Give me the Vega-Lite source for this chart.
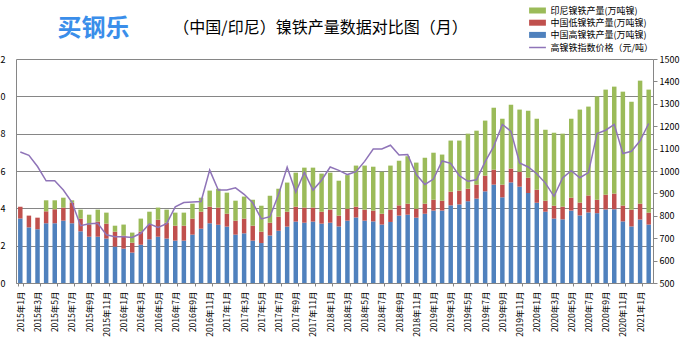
{
  "$schema": "https://vega.github.io/schema/vega-lite/v6.json",
  "width": 637,
  "height": 224,
  "autosize": {"type": "none"},
  "padding": {"left": 16, "top": 59, "right": 28, "bottom": 58},
  "background": "white",
  "title": {
    "text": "（中国/印尼）镍铁产量数据对比图（月）",
    "fontSize": 16,
    "fontWeight": "normal",
    "font": "Noto Sans CJK SC",
    "color": "#000000",
    "anchor": "middle",
    "dx": -14,
    "offset": -30
  },
  "config": {
    "font": "Noto Sans CJK SC",
    "view": {"stroke": null},
    "legend": {"padding": 0, "labelFontSize": 9, "labelColor": "#000000", "rowPadding": 2.2}
  },
  "datasets": {
    "series": [
      {"k": "id", "label": "印尼镍铁产量(万吨镍)", "r": 3},
      {"k": "lo", "label": "中国低镍铁产量(万吨镍)", "r": 2},
      {"k": "hi", "label": "中国高镍铁产量(万吨镍)", "r": 1}
    ],
    "main": [
      {"m": "2015年1月", "hi": 3.45, "lo": 0.64, "id": 0, "p": 1085},
      {"m": "2015年2月", "hi": 2.98, "lo": 0.63, "id": 0, "p": 1070},
      {"m": "2015年3月", "hi": 2.88, "lo": 0.62, "id": 0, "p": 1020},
      {"m": "2015年4月", "hi": 3.2, "lo": 0.64, "id": 0.59, "p": 956},
      {"m": "2015年5月", "hi": 3.2, "lo": 0.75, "id": 0.48, "p": 956},
      {"m": "2015年6月", "hi": 3.34, "lo": 0.7, "id": 0.53, "p": 915},
      {"m": "2015年7月", "hi": 3.2, "lo": 1.1, "id": 0.13, "p": 860},
      {"m": "2015年8月", "hi": 2.77, "lo": 0.68, "id": 0.48, "p": 756},
      {"m": "2015年9月", "hi": 2.48, "lo": 0.63, "id": 0.55, "p": 764},
      {"m": "2015年10月", "hi": 2.48, "lo": 0.81, "id": 0.64, "p": 767},
      {"m": "2015年11月", "hi": 2.38, "lo": 0.8, "id": 0.59, "p": 715},
      {"m": "2015年12月", "hi": 1.95, "lo": 0.8, "id": 0.32, "p": 707},
      {"m": "2016年1月", "hi": 1.84, "lo": 0.7, "id": 0.59, "p": 707},
      {"m": "2016年2月", "hi": 1.63, "lo": 0.53, "id": 0.54, "p": 703},
      {"m": "2016年3月", "hi": 2.05, "lo": 0.7, "id": 0.7, "p": 722},
      {"m": "2016年4月", "hi": 2.34, "lo": 0.8, "id": 0.68, "p": 764},
      {"m": "2016年5月", "hi": 2.48, "lo": 0.91, "id": 0.65, "p": 748},
      {"m": "2016年6月", "hi": 2.38, "lo": 0.85, "id": 0.7, "p": 765},
      {"m": "2016年7月", "hi": 2.27, "lo": 0.8, "id": 0.7, "p": 840},
      {"m": "2016年8月", "hi": 2.27, "lo": 0.8, "id": 0.7, "p": 859},
      {"m": "2016年9月", "hi": 2.59, "lo": 0.86, "id": 0.8, "p": 862},
      {"m": "2016年10月", "hi": 2.91, "lo": 0.91, "id": 0.75, "p": 864},
      {"m": "2016年11月", "hi": 3.2, "lo": 0.89, "id": 0.86, "p": 1004},
      {"m": "2016年12月", "hi": 3.12, "lo": 0.92, "id": 1.01, "p": 915},
      {"m": "2017年1月", "hi": 3.02, "lo": 0.69, "id": 1.13, "p": 915},
      {"m": "2017年2月", "hi": 2.59, "lo": 0.75, "id": 1.07, "p": 925},
      {"m": "2017年3月", "hi": 2.66, "lo": 0.79, "id": 1.18, "p": 896},
      {"m": "2017年4月", "hi": 2.27, "lo": 0.8, "id": 1.39, "p": 858},
      {"m": "2017年5月", "hi": 2.14, "lo": 0.61, "id": 1.39, "p": 786},
      {"m": "2017年6月", "hi": 2.55, "lo": 0.68, "id": 1.45, "p": 796},
      {"m": "2017年7月", "hi": 2.8, "lo": 0.75, "id": 1.5, "p": 895},
      {"m": "2017年8月", "hi": 3.02, "lo": 0.8, "id": 1.56, "p": 1017},
      {"m": "2017年9月", "hi": 3.29, "lo": 0.8, "id": 1.82, "p": 905},
      {"m": "2017年10月", "hi": 3.23, "lo": 0.81, "id": 2.14, "p": 994},
      {"m": "2017年11月", "hi": 3.29, "lo": 0.75, "id": 2.14, "p": 915},
      {"m": "2017年12月", "hi": 3.18, "lo": 0.64, "id": 2.04, "p": 959},
      {"m": "2018年1月", "hi": 3.23, "lo": 0.7, "id": 1.98, "p": 1018},
      {"m": "2018年2月", "hi": 3.03, "lo": 0.58, "id": 1.87, "p": 1003},
      {"m": "2018年3月", "hi": 3.34, "lo": 0.64, "id": 1.8, "p": 984},
      {"m": "2018年4月", "hi": 3.51, "lo": 0.58, "id": 2.2, "p": 997},
      {"m": "2018年5月", "hi": 3.34, "lo": 0.59, "id": 2.36, "p": 1043},
      {"m": "2018年6月", "hi": 3.3, "lo": 0.58, "id": 2.35, "p": 1098},
      {"m": "2018年7月", "hi": 3.13, "lo": 0.58, "id": 2.25, "p": 1098},
      {"m": "2018年8月", "hi": 3.27, "lo": 0.66, "id": 2.36, "p": 1115},
      {"m": "2018年9月", "hi": 3.61, "lo": 0.55, "id": 2.39, "p": 1071},
      {"m": "2018年10月", "hi": 3.66, "lo": 0.59, "id": 2.54, "p": 1074},
      {"m": "2018年11月", "hi": 3.5, "lo": 0.48, "id": 2.47, "p": 984},
      {"m": "2018年12月", "hi": 3.71, "lo": 0.54, "id": 2.46, "p": 940},
      {"m": "2019年1月", "hi": 3.88, "lo": 0.58, "id": 2.52, "p": 964},
      {"m": "2019年2月", "hi": 3.88, "lo": 0.53, "id": 2.47, "p": 1045},
      {"m": "2019年3月", "hi": 4.16, "lo": 0.73, "id": 2.74, "p": 1034},
      {"m": "2019年4月", "hi": 4.21, "lo": 0.74, "id": 2.68, "p": 979},
      {"m": "2019年5月", "hi": 4.38, "lo": 0.67, "id": 2.95, "p": 954},
      {"m": "2019年6月", "hi": 4.52, "lo": 0.75, "id": 2.89, "p": 961},
      {"m": "2019年7月", "hi": 4.91, "lo": 0.84, "id": 2.95, "p": 1042},
      {"m": "2019年8月", "hi": 5.27, "lo": 0.8, "id": 3.32, "p": 1110},
      {"m": "2019年9月", "hi": 4.59, "lo": 0.68, "id": 3.53, "p": 1208},
      {"m": "2019年10月", "hi": 5.39, "lo": 0.74, "id": 3.42, "p": 1177},
      {"m": "2019年11月", "hi": 5.16, "lo": 0.8, "id": 3.33, "p": 1036},
      {"m": "2019年12月", "hi": 4.82, "lo": 0.82, "id": 3.59, "p": 1018},
      {"m": "2020年1月", "hi": 4.3, "lo": 0.7, "id": 3.8, "p": 988},
      {"m": "2020年2月", "hi": 3.82, "lo": 0.59, "id": 3.8, "p": 946},
      {"m": "2020年3月", "hi": 3.45, "lo": 0.69, "id": 3.91, "p": 887},
      {"m": "2020年4月", "hi": 3.41, "lo": 0.68, "id": 3.91, "p": 969},
      {"m": "2020年5月", "hi": 3.88, "lo": 0.69, "id": 4.23, "p": 1001},
      {"m": "2020年6月", "hi": 3.62, "lo": 0.69, "id": 4.98, "p": 970},
      {"m": "2020年7月", "hi": 3.78, "lo": 0.91, "id": 4.76, "p": 993},
      {"m": "2020年8月", "hi": 3.74, "lo": 0.72, "id": 5.54, "p": 1167},
      {"m": "2020年9月", "hi": 3.94, "lo": 0.79, "id": 5.63, "p": 1182},
      {"m": "2020年10月", "hi": 3.95, "lo": 0.84, "id": 5.73, "p": 1208},
      {"m": "2020年11月", "hi": 3.3, "lo": 0.85, "id": 6.1, "p": 1078},
      {"m": "2020年12月", "hi": 3.03, "lo": 0.9, "id": 5.78, "p": 1088},
      {"m": "2021年1月", "hi": 3.4, "lo": 0.85, "id": 6.59, "p": 1135},
      {"m": "2021年2月", "hi": 3.13, "lo": 0.64, "id": 6.59, "p": 1212}
    ]
  },
  "data": {"name": "main"},
  "encoding": {
    "x": {
      "field": "m",
      "type": "ordinal",
      "sort": null,
      "scale": {"paddingInner": 0.48, "paddingOuter": 0.24},
      "axis": {
        "title": null,
        "labelAngle": -90,
        "labelFontSize": 8.5,
        "labelColor": "#000000",
        "labelPadding": 5,
        "tickBand": "extent",
        "tickSize": 3,
        "tickColor": "#868686",
        "domainColor": "#868686",
        "values": ["2015年1月","2015年3月","2015年5月","2015年7月","2015年9月","2015年11月","2016年1月","2016年3月","2016年5月","2016年7月","2016年9月","2016年11月","2017年1月","2017年3月","2017年5月","2017年7月","2017年9月","2017年11月","2018年1月","2018年3月","2018年5月","2018年7月","2018年9月","2018年11月","2019年1月","2019年3月","2019年5月","2019年7月","2019年9月","2019年11月","2020年1月","2020年3月","2020年5月","2020年7月","2020年9月","2020年11月","2021年1月"]
      }
    }
  },
  "layer": [
    {
      "transform": [
        {"fold": ["hi", "lo", "id"], "as": ["k", "v"]},
        {"lookup": "k", "from": {"data": {"name": "series"}, "key": "k", "fields": ["label", "r"]}}
      ],
      "mark": {"type": "bar"},
      "encoding": {
        "y": {
          "field": "v",
          "type": "quantitative",
          "stack": "zero",
          "scale": {"domain": [0, 12], "nice": false},
          "axis": {
            "title": "买钢乐",
            "titleAngle": 0,
            "titleX": 77,
            "titleY": -31,
            "titleAlign": "center",
            "titleBaseline": "middle",
            "titleFontSize": 24,
            "titleFontWeight": "bold",
            "titleColor": "#3a8eea",
            "values": [0, 2, 4, 6, 8, 10, 12],
            "grid": true,
            "gridColor": "#868686",
            "gridWidth": 1,
            "gridOpacity": 1,
            "tickSize": 0,
            "labelPadding": 11,
            "labelFontSize": 9,
            "labelColor": "#000000",
            "domainColor": "#868686"
          }
        },
        "color": {
          "field": "label",
          "type": "nominal",
          "scale": {
            "domain": ["印尼镍铁产量(万吨镍)", "中国低镍铁产量(万吨镍)", "中国高镍铁产量(万吨镍)"],
            "range": ["#9BBB59", "#C0504D", "#4F81BD"]
          },
          "legend": {
            "title": null,
            "orient": "none",
            "legendX": 517,
            "legendY": -53,
            "symbolType": "M-2.8,-1H2.8V1H-2.8Z",
            "symbolSize": 36,
            "symbolStrokeWidth": 0,
            "labelOffset": 8.5
          }
        },
        "order": {"field": "r", "type": "quantitative", "sort": "ascending"}
      }
    },
    {
      "mark": {"type": "line", "strokeWidth": 1.5},
      "encoding": {
        "y": {
          "field": "p",
          "type": "quantitative",
          "scale": {"domain": [500, 1500], "nice": false},
          "axis": {
            "title": null,
            "orient": "right",
            "format": "d",
            "values": [500, 600, 700, 800, 900, 1000, 1100, 1200, 1300, 1400, 1500],
            "grid": false,
            "tickSize": 4,
            "tickColor": "#868686",
            "domainColor": "#868686",
            "labelPadding": 2,
            "labelFontSize": 9,
            "labelColor": "#000000"
          }
        },
        "stroke": {
          "datum": "高镍铁指数价格（元/吨）",
          "type": "nominal",
          "scale": {"range": ["#8F74B8"]},
          "legend": {
            "title": null,
            "orient": "none",
            "legendX": 517,
            "legendY": -16,
            "symbolType": "M-2.8,0H2.8",
            "symbolSize": 36,
            "symbolStrokeWidth": 1.5,
            "labelOffset": 8.5
          }
        }
      }
    }
  ],
  "resolve": {"scale": {"y": "independent", "color": "independent"}}
}
